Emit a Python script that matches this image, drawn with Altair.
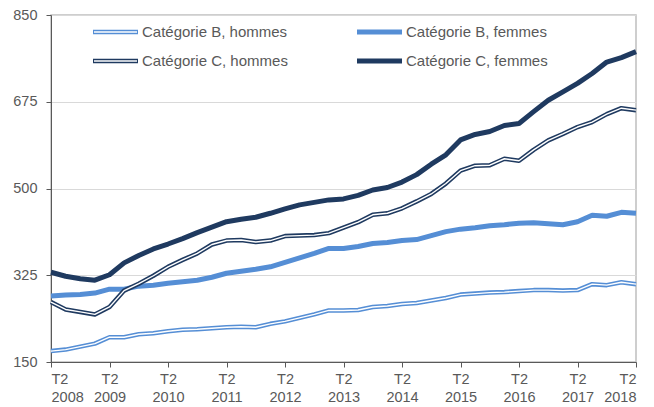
import altair as alt
import pandas as pd

quarters = list(range(41))  # T2 2008 ... T2 2018, quarterly

b_hommes = [172, 175, 181, 187, 200, 200, 206, 208, 212, 215, 216, 218, 220, 221, 220,
            227, 232, 239, 246, 254, 254, 255, 261, 263, 267, 269, 274, 279, 286, 288,
            290, 291, 293, 295, 295, 294, 295, 307, 305, 311, 307]
b_femmes = [283, 285, 286, 289, 297, 297, 303, 305, 309, 312, 315, 321, 329, 333, 337,
            342, 351, 360, 369, 379, 379, 383, 389, 391, 395, 397, 405, 413, 418, 421,
            425, 427, 430, 431, 429, 427, 433, 446, 444, 452, 450]
c_hommes = [271, 256, 251, 246, 261, 294, 308, 324, 342, 356, 369, 387, 395, 396, 392,
            395, 404, 405, 406, 410, 421, 432, 447, 450, 460, 474, 489, 510, 536, 546,
            547, 560, 556, 578, 597, 610, 624, 634, 650, 662, 658]
c_femmes = [331, 323, 318, 315, 326, 350, 365, 378, 388, 399, 411, 422, 433, 438, 442,
            450, 459, 467, 472, 477, 479, 486, 497, 502, 513, 528, 549, 568, 598, 609,
            615, 627, 631, 655, 678, 695, 712, 732, 755, 764, 776]

names = ["Catégorie B, hommes", "Catégorie B, femmes",
         "Catégorie C, hommes", "Catégorie C, femmes"]
y_ticks = [150, 325, 500, 675, 850]
x_ticks = list(range(0, 41, 4))

BLUE = "#558ED5"
NAVY = "#1F3A60"
GREY = "#595959"
FONT = "Liberation Sans"

rows = []
for name, vals in zip(names, [b_hommes, b_femmes, c_hommes, c_femmes]):
    for q, v in zip(quarters, vals):
        rows.append({"serie": name, "q": q, "v": v})
df = pd.DataFrame(rows)

xenc = alt.X("q:Q", scale=alt.Scale(domain=[0, 40], nice=False, zero=False),
             axis=alt.Axis(values=x_ticks,
                           labelExpr="['T2', toString(2008 + datum.value / 4)]",
                           title=None, grid=False, domainColor=GREY, tickColor=GREY,
                           tickSize=5, labelColor=GREY, labelFontSize=14.5, labelFont=FONT,
                           labelPadding=5, labelLineHeight=18))
yenc = alt.Y("v:Q", scale=alt.Scale(domain=[150, 850], nice=False, zero=False),
             axis=alt.Axis(values=y_ticks, title=None, grid=True, gridColor="#d9d9d9",
                           domainColor=GREY, tickColor=GREY, tickSize=5, labelColor=GREY,
                           labelFontSize=14.5, labelFont=FONT, labelPadding=9))

base = alt.Chart(df).encode(x=xenc, y=yenc, detail="serie:N")


def thick(name, color):
    return base.transform_filter(alt.datum.serie == name).mark_line(
        color=color, strokeWidth=5, strokeJoin="round")


def double(name, color):
    outer = base.transform_filter(alt.datum.serie == name).mark_line(
        color=color, strokeWidth=4.5, strokeJoin="round")
    inner = base.transform_filter(alt.datum.serie == name).mark_line(
        color="white", strokeWidth=1.4, strokeJoin="round")
    return [outer, inner]


layers = []
layers += double(names[0], BLUE)
layers.append(thick(names[1], BLUE))
layers += double(names[2], NAVY)
layers.append(thick(names[3], NAVY))

# manual legend (two columns, two rows)
leg = [
    (names[0], BLUE, True, 42, 17),
    (names[1], BLUE, False, 306, 17),
    (names[2], NAVY, True, 42, 46),
    (names[3], NAVY, False, 306, 46),
]
for name, color, is_double, lx, ly in leg:
    one = pd.DataFrame({"t": [name]})
    if is_double:
        layers.append(alt.Chart(one).mark_rule(color=color, strokeWidth=4.5).encode(
            x=alt.value(lx), x2=alt.value(lx + 45), y=alt.value(ly)))
        layers.append(alt.Chart(one).mark_rule(color="white", strokeWidth=1.4).encode(
            x=alt.value(lx + 1), x2=alt.value(lx + 44), y=alt.value(ly)))
    else:
        layers.append(alt.Chart(one).mark_rule(color=color, strokeWidth=5).encode(
            x=alt.value(lx), x2=alt.value(lx + 45), y=alt.value(ly)))
    layers.append(alt.Chart(one).mark_text(
        align="left", baseline="middle", font=FONT, fontSize=15, color=GREY).encode(
        x=alt.value(lx + 49), y=alt.value(ly), text="t:N"))

chart = alt.layer(*layers).properties(
    width=585, height=347,
    autosize=alt.AutoSizeParams(type="none"),
    padding={"left": 43, "top": 7, "right": 10, "bottom": 42},
).configure_view(stroke="#bfbfbf", strokeWidth=1.5)

chart.save("out.html", embed_options={"renderer": "svg", "actions": False})
